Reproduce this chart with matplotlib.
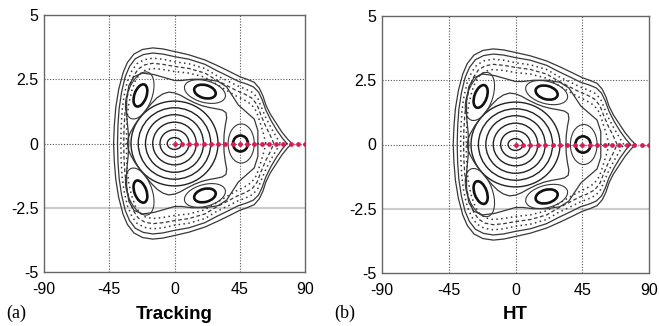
import matplotlib
matplotlib.use("Agg")
import matplotlib.pyplot as plt
from matplotlib.patches import Ellipse
from matplotlib.transforms import Affine2D

# ---------------- data ----------------
x_ticks = [-90, -45, 0, 45, 90]
x_tick_labels = ["-90", "-45", "0", "45", "90"]
y_ticks = [-5, -2.5, 0, 2.5, 5]
y_tick_labels = ["-5", "-2.5", "0", "2.5", "5"]
grid_x = [-45, 0, 45]
grid_y = [2.5, 0]
faint_y = [-2.5]
panel_tags = ["(a)", "(b)"]
panel_titles = ["Tracking", "HT"]

# launch points (red) along y = 0
launch_x = [0, 5, 10, 15, 20, 25, 30, 35, 40, 45, 50, 55, 60, 65, 70, 75, 80, 85, 90]

# central invariant curves: semi-axes (deg, y units)
ring_rx = [5, 10, 15, 20, 25, 30]
ring_ry = [0.23, 0.53, 0.83, 1.12, 1.39, 1.65]

# last central curve (pentagonal), upper half, right -> left
r7_x = [34, 34.2, 35, 36, 35.5, 33, 29, 24, 19, 14, 9, 4, 0, -4, -8, -12, -16, -20, -24, -27.5, -30.5, -32, -32.5]
r7_y = [0, 0.35, 0.7, 1.0, 1.2, 1.3, 1.35, 1.4, 1.47, 1.58, 1.72, 1.88, 1.97, 2.0, 1.93, 1.78, 1.55, 1.28, 1.0, 0.72, 0.42, 0.2, 0]

# five resonance islands: centre, size in x-degree scale, tilt (deg)
island_cx = [45.5, 21.0, -23.5, -23.5, 21.0]
island_cy = [0.0, 2.02, 1.87, -1.87, -2.02]
island_w = [10.3, 15.2, 16.0, 16.0, 15.2]
island_h = [11.0, 9.0, 8.3, 8.3, 9.0]
island_ang = [0, -15, 70, -70, 15]
loop_cx = [46.0, 21.0, -24.0, -24.0, 21.0]
loop_w = [18.0, 29.0, 34.0, 34.0, 29.0]
loop_h = [27.0, 15.0, 17.0, 17.0, 15.0]

# outer invariant curves, upper half (right tip -> left), mirrored in y
c1_x = [81, 78, 74, 70, 66, 63, 61, 58.5, 55, 50, 45, 38, 30, 21, 10, 0, -8, -15, -22, -28, -32.5, -35.5, -38.5, -40.5, -41.5, -42]
c1_y = [0, 0.17, 0.45, 0.8, 1.15, 1.5, 1.85, 2.15, 2.38, 2.5, 2.6, 2.8, 3.02, 3.25, 3.45, 3.58, 3.68, 3.72, 3.66, 3.48, 3.15, 2.75, 2.1, 1.4, 0.7, 0]
c2_x = [77.5, 74.5, 70.5, 66.5, 63, 60.5, 58, 54.5, 49.5, 44, 37, 29, 21, 10, 0, -8, -15, -21.5, -27, -31, -34, -36.5, -38.2, -39, -39.3]
c2_y = [0, 0.2, 0.52, 0.9, 1.3, 1.7, 2.0, 2.2, 2.32, 2.42, 2.62, 2.84, 3.08, 3.28, 3.38, 3.48, 3.52, 3.46, 3.3, 3.0, 2.6, 2.0, 1.35, 0.7, 0]
c3_x = [73, 70, 66.5, 63, 60, 57.5, 54, 49, 43.5, 36.5, 28.5, 21, 10, 0, -8, -15, -21, -26, -29.5, -32.5, -34.8, -36.2, -36.8, -37]
c3_y = [0, 0.28, 0.62, 1.0, 1.4, 1.75, 1.98, 2.12, 2.24, 2.44, 2.66, 2.92, 3.1, 3.18, 3.28, 3.32, 3.26, 3.1, 2.82, 2.42, 1.85, 1.25, 0.62, 0]
c4_x = [68.5, 66, 62.5, 59.5, 57, 53.5, 48.5, 43, 36, 28, 21, 10, 0, -8, -15, -20.5, -25, -28.3, -31, -33, -34.2, -34.8, -35]
c4_y = [0, 0.32, 0.72, 1.12, 1.5, 1.76, 1.92, 2.05, 2.26, 2.5, 2.74, 2.92, 3.0, 3.08, 3.12, 3.06, 2.9, 2.62, 2.22, 1.7, 1.15, 0.58, 0]
c5_x = [63, 61.5, 59, 56.5, 53, 48, 42.5, 35.5, 28, 21, 10, 0, -8, -15, -20, -24, -27, -29.5, -31.5, -32.6, -33, -33.2]
c5_y = [0, 0.35, 0.82, 1.25, 1.52, 1.7, 1.85, 2.08, 2.34, 2.58, 2.74, 2.8, 2.88, 2.92, 2.86, 2.7, 2.44, 2.05, 1.55, 1.05, 0.52, 0]
c6_x = [57.5, 57.5, 55, 50, 44, 40, 36, 30, 21, 12, 5, 0, -6, -14, -22, -28, -31.5, -33, -33, -32, -31.5]
c6_y = [0, 0.5, 0.95, 1.2, 1.5, 1.85, 2.2, 2.42, 2.5, 2.5, 2.45, 2.45, 2.55, 2.68, 2.74, 2.6, 2.25, 1.7, 1.1, 0.5, 0]

outer_curves = [(c1_x, c1_y, "solid"), (c2_x, c2_y, "solid"), (c3_x, c3_y, "dotted"),
                (c4_x, c4_y, "dashed"), (c5_x, c5_y, "dotted"), (c6_x, c6_y, "solid"),
                (r7_x, r7_y, "solid")]

# ---------------- figure ----------------
W, H, DPI = 659, 326, 100
fig = plt.figure(figsize=(W / DPI, H / DPI), dpi=DPI)
axes_px = [(44, 305, 15, 272), (382, 649, 16, 273)]

tick_font = dict(family="Liberation Sans", size=11.5)
line_col = "#383838"
styles = {"solid": dict(ls="-", lw=0.9, color=line_col),
          "dotted": dict(ls=(0, (1, 2.2)), lw=1.1, color=line_col),
          "dashed": dict(ls=(0, (3, 2)), lw=0.9, color=line_col)}


def mirror(xs, ys):
    fx = list(xs) + list(xs[-2::-1])
    fy = list(ys) + [-v for v in ys[-2::-1]]
    return fx, fy


for i, (l, r, t, b) in enumerate(axes_px):
    ax = fig.add_axes([l / W, 1 - b / H, (r - l) / W, (b - t) / H])
    ax.set_xlim(-90, 90)
    ax.set_ylim(-5, 5)
    ax.set_xticks(x_ticks)
    ax.set_xticklabels(x_tick_labels, fontdict=tick_font)
    ax.set_yticks(y_ticks)
    ax.set_yticklabels(y_tick_labels, fontdict=tick_font)
    ax.tick_params(length=0, pad=4)
    ax.tick_params(axis="x", pad=7)
    for s in ax.spines.values():
        s.set_color("#666666")
        s.set_linewidth(1.0)

    for gx in grid_x:
        ax.axvline(gx, color="#555555", lw=0.8, ls=(0, (1, 1.5)), zorder=1)
    for gy in grid_y:
        ax.axhline(gy, color="#555555", lw=0.8, ls=(0, (1, 1.5)), zorder=1)
    for gy in faint_y:
        ax.axhline(gy, color="#cccccc", lw=1.5, zorder=0)

    # isotropic transform (x-degree units both ways) for tilted islands
    K = ((b - t) / 10.0) / ((r - l) / 180.0)
    iso = Affine2D().scale(1.0, 1.0 / K) + ax.transData

    for rx, ry in zip(ring_rx, ring_ry):
        ax.add_patch(Ellipse((0, 0), 2 * rx, 2 * ry, fill=False, ec="#222222", lw=1.0, zorder=3))

    for cx, cy, w, h, a, lcx, lw_, lh in zip(island_cx, island_cy, island_w, island_h, island_ang,
                                             loop_cx, loop_w, loop_h):
        ax.add_patch(Ellipse((cx, cy * K), w, h, angle=a, fill=False, ec="#111111", lw=1.9,
                             transform=iso, zorder=4))
        ax.add_patch(Ellipse((lcx, cy * K), lw_, lh, angle=a, fill=False, ec=line_col, lw=0.8,
                             transform=iso, zorder=3))

    for xs, ys, st in outer_curves:
        fx, fy = mirror(xs, ys)
        ax.plot(fx, fy, zorder=3, solid_joinstyle="round", **styles[st])

    ax.plot(launch_x, [0] * len(launch_x), ls=(0, (1, 1.5)), lw=1.0, color="#e8557f", zorder=5)
    ax.plot(launch_x, [0] * len(launch_x), ls="none", marker="o", ms=2.4, color="#d81b55", zorder=6)

    cxm = (l + r) / 2 / W
    fig.text(cxm, 0.022, panel_titles[i], ha="center", va="baseline",
             family="Liberation Sans", weight="bold", size=13.5)
    fig.text((6 if i == 0 else 334) / W, 0.026, panel_tags[i], ha="left", va="baseline",
             family="Liberation Serif", size=13)

fig.savefig("out.png", dpi=DPI)
